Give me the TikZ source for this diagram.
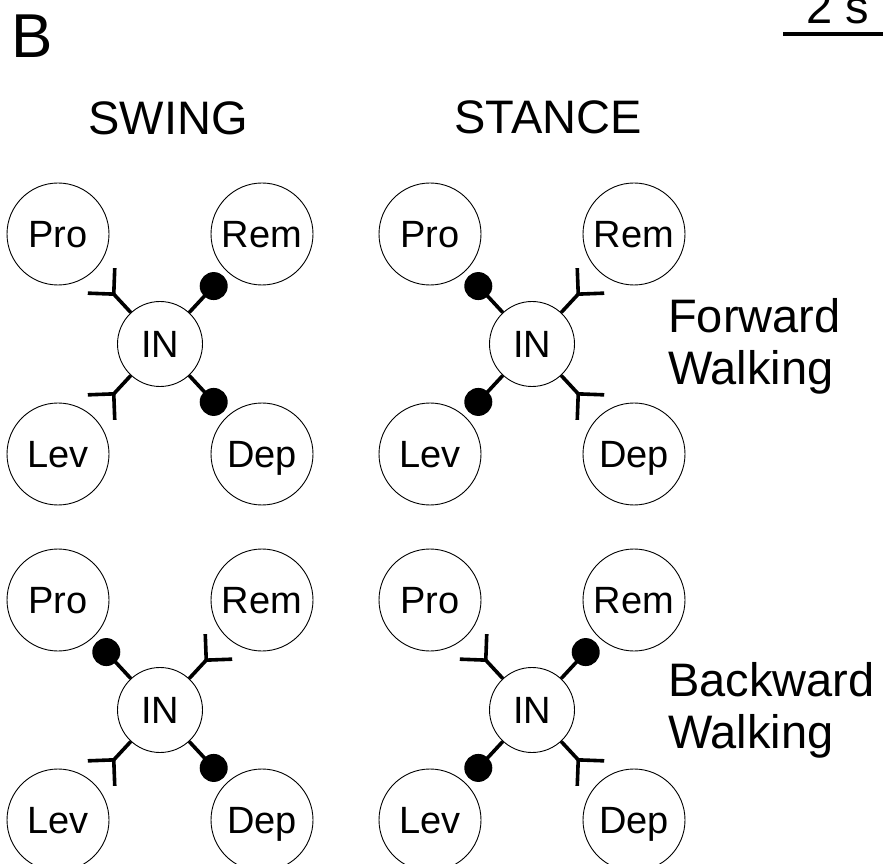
\documentclass[tikz,border=0pt]{standalone}
\usepackage{fontspec}
\setmainfont{Liberation Sans}
\usetikzlibrary{calc}
\tikzset{neuron/.style = {circle,draw,line width=0.9pt,inner sep=0pt,minimum size=102pt,text height=27pt,text depth=0pt,font=\fontsize{38}{38}\selectfont},
         inter/.style = {neuron,minimum size=85pt},
         syn/.style = {line width=3.6pt},
         lbl/.style = {inner sep=0pt,font=\fontsize{47}{52}\selectfont}}
\begin{document}
\begin{tikzpicture}[x=1pt,y=1pt]
                \useasboundingbox (0,0) rectangle (883,863);
                \node [lbl,font=\fontsize{62}{62}\selectfont,anchor=base west] (panel) at (11,805) {B};
                \node [lbl,anchor=base] (swing) at (168,728) {SWING};
                \node [lbl,anchor=base] (stance) at (548,729) {STANCE};
                \node [lbl,anchor=base west,align=left] (fwd) at (668,478) {Forward\\Walking};
                \node [lbl,anchor=base west,align=left] (bwd) at (668,115) {Backward\\Walking};
                \node [lbl,anchor=base west] (sec) at (806,839) {2 s};
                \coordinate (bar) at (783,829);
                \draw [line width=4pt] (bar) -- ++(100,0);
                \foreach \n/\x/\y in {1/160/519,2/532/519,3/160/153,4/532/153} {
                    \node [inter] (in\n) at (\x,\y) {IN};
                    \node [neuron] (pro\n) at (\x-102,\y+110) {Pro};
                    \node [neuron] (rem\n) at (\x+102,\y+110) {Rem};
                    \node [neuron] (lev\n) at (\x-102,\y-110) {Lev};
                    \node [neuron] (dep\n) at (\x+102,\y-110) {Dep};
                }
                \foreach \n/\t in {1/pro,1/lev,2/rem,2/dep,3/rem,3/lev,4/pro,4/dep} {
                    \coordinate (f) at ($(in\n)!68pt!(\t\n)$);
                    \draw [syn] (in\n) -- (f);
                    \draw [syn] ($(f)!26pt!45:(\t\n)$) -- (f) -- ($(f)!26pt!-45:(\t\n)$);
                }
                \foreach \n/\t in {1/rem,1/dep,2/pro,2/lev,3/pro,3/dep,4/rem,4/lev} {
                    \coordinate (b) at ($(in\n)!79pt!(\t\n)$);
                    \draw [syn] (in\n) -- (b);
                    \fill (b) circle (14pt);
                }
            \end{tikzpicture}
\end{document}
